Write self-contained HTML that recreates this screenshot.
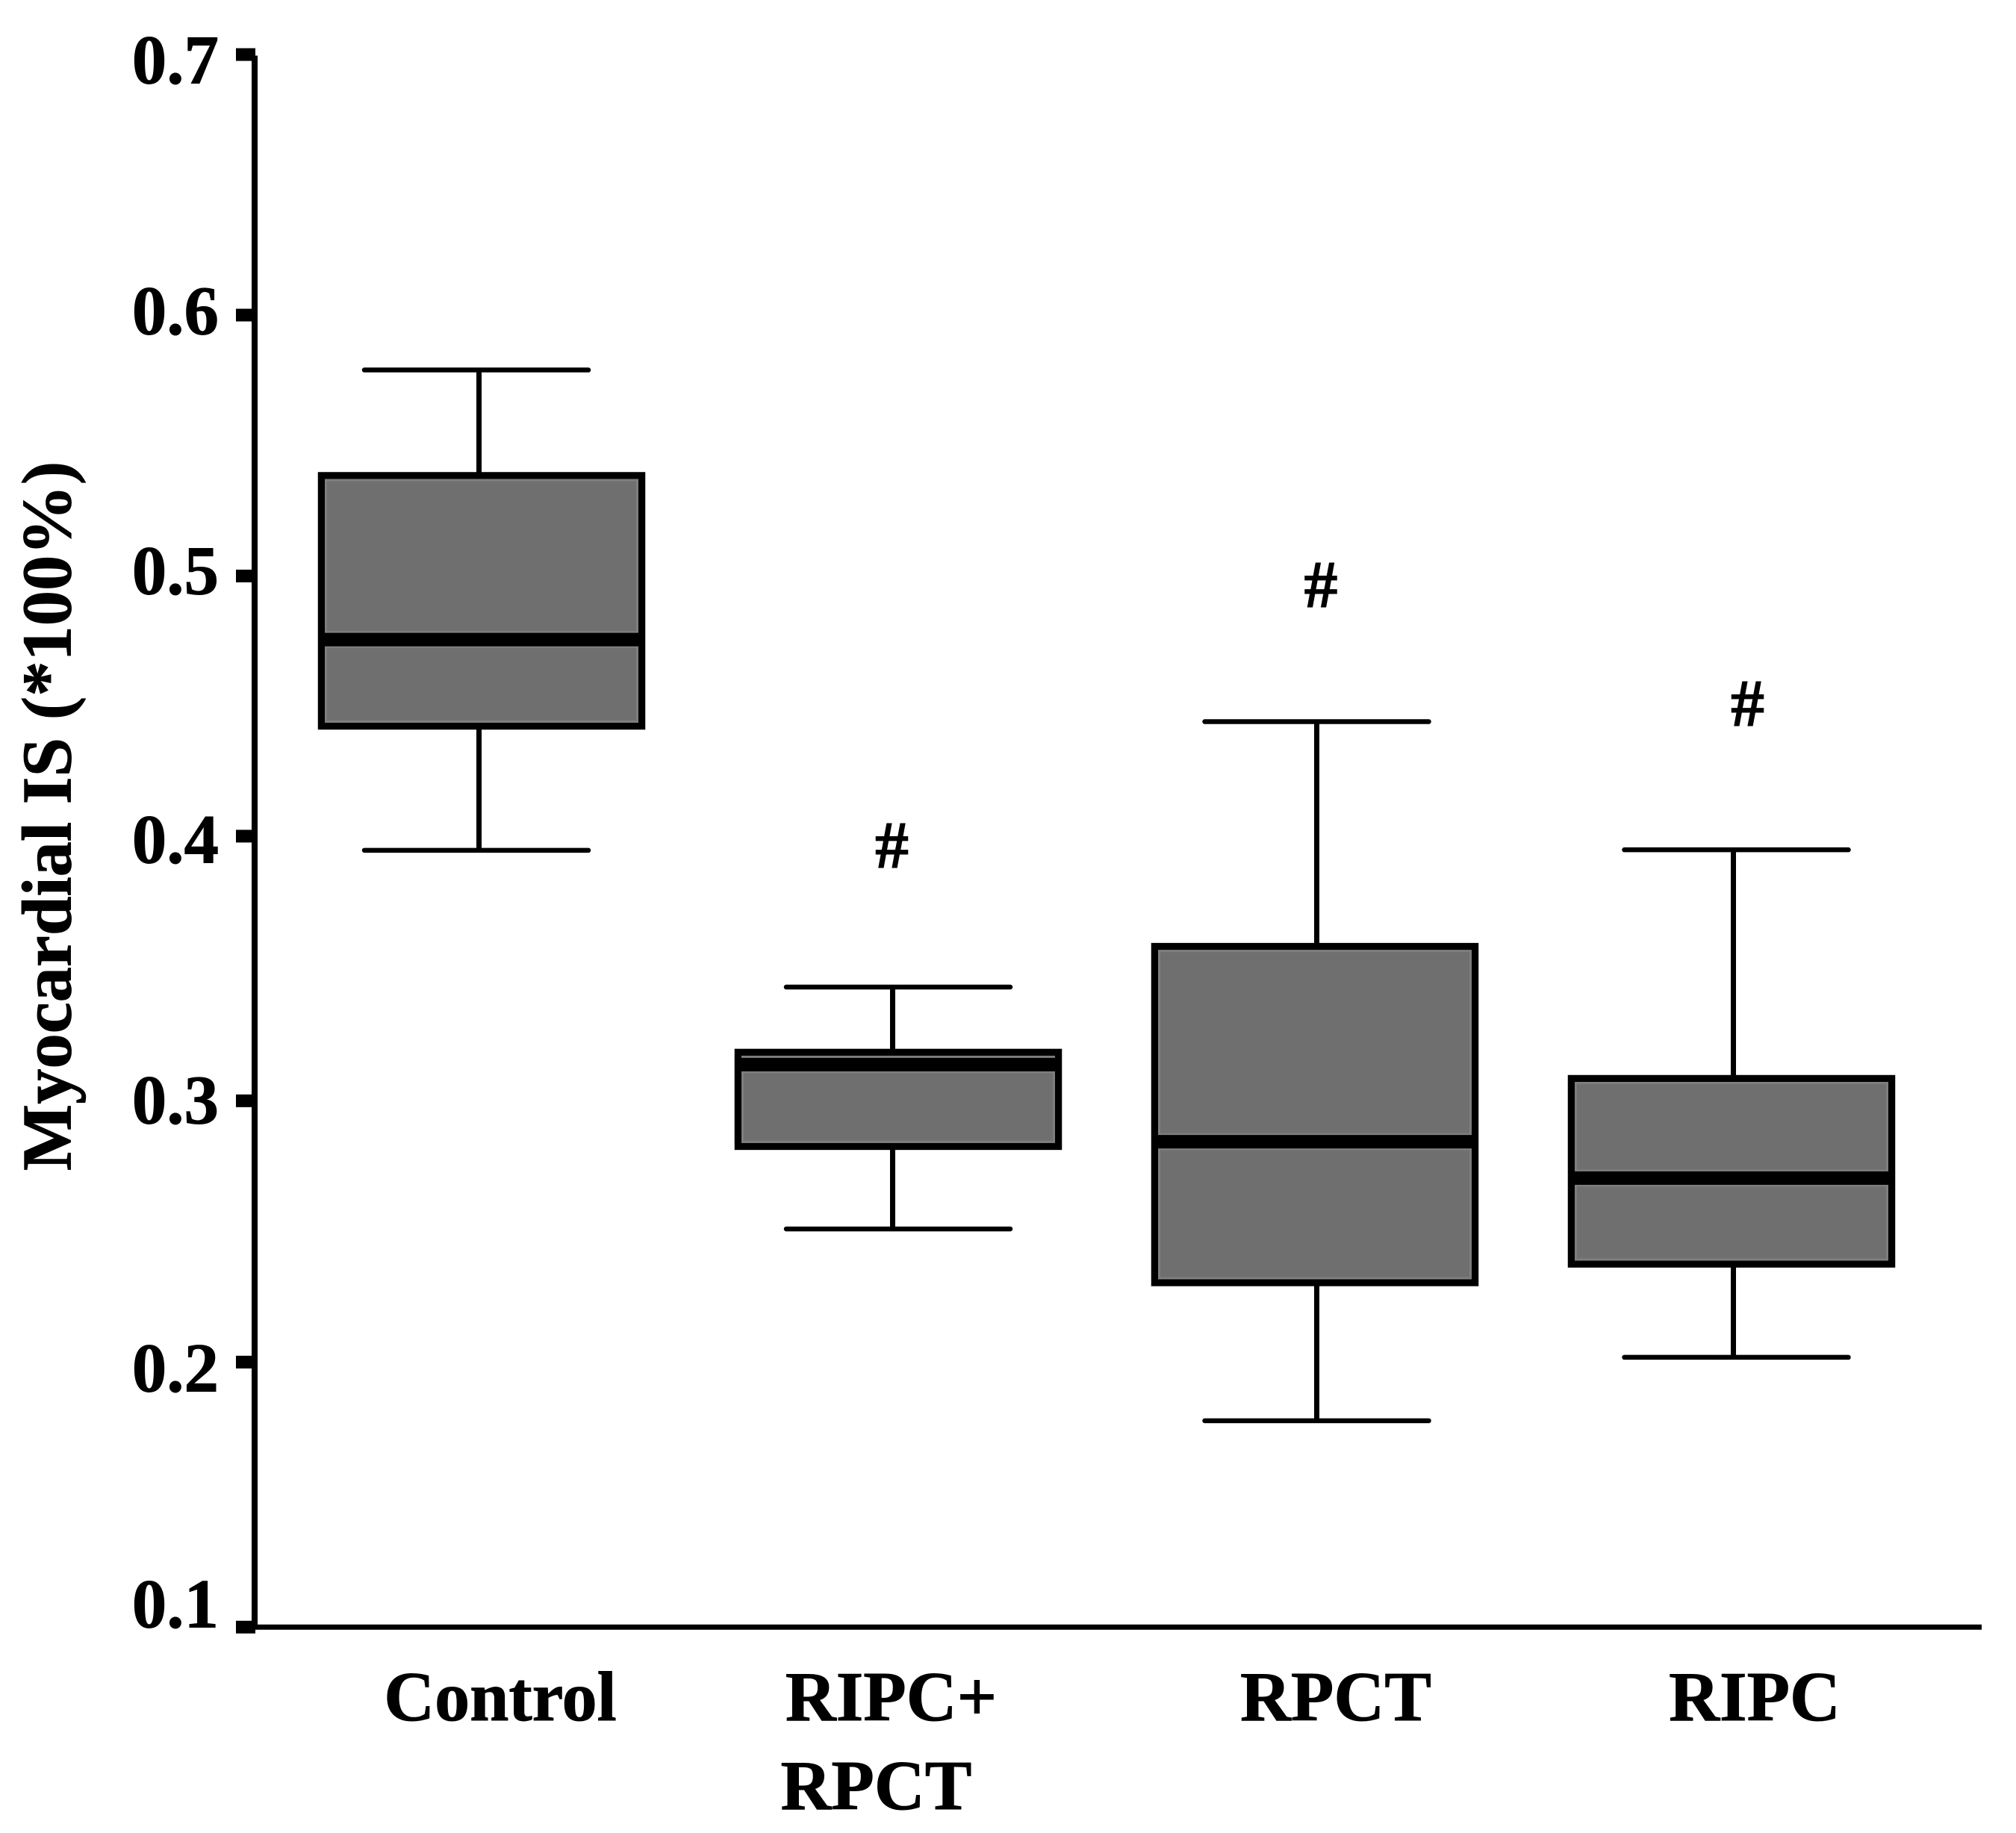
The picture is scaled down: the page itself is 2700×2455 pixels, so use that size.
<!DOCTYPE html>
<html lang="en">
<head>
<meta charset="utf-8">
<title>Myocardial IS box plot</title>
<style>
  html, body { margin: 0; padding: 0; background: #ffffff; }
  svg { display: block; }
  text { font-family: "Liberation Serif", "Times New Roman", serif; font-weight: 700; fill: #000; stroke: #000; stroke-width: 0.9px; }
</style>
</head>
<body>
<svg id="chart" xmlns="http://www.w3.org/2000/svg" width="2700" height="2455" viewBox="0 0 2700 2455">
  <rect x="0" y="0" width="2700" height="2455" fill="#ffffff"/>
  <text transform="translate(94.5,1568) rotate(-90)" font-size="94.5">Myocardial IS (*100%)</text>
</svg>
<script>
// ----- chart data -----
const categories = ["Control", "RIPC+ RPCT", "RPCT", "RIPC"];
const categoryLines = [["Control"], ["RIPC+", "RPCT"], ["RPCT"], ["RIPC"]];
const whiskerHigh = [0.5789, 0.3434, 0.4447, 0.3958];
const quartile3 = [0.5386, 0.3185, 0.3589, 0.3085];
const medians = [0.4760, 0.3138, 0.2844, 0.2705];
const quartile1 = [0.4430, 0.2826, 0.2306, 0.2377];
const whiskerLow = [0.3956, 0.2511, 0.1779, 0.2021];
const significance = [null, 0.3976, 0.4970, 0.4517];
const tickValues = [0.7, 0.6, 0.5, 0.4, 0.3, 0.2, 0.1];
const tickLabels = ["0.7", "0.6", "0.5", "0.4", "0.3", "0.2", "0.1"];

// ----- axis functions -----
function yScale(v) { return 1123.4 + (0.4 - v) * 3509.5; }
function xScale(i) { return 645 + i * 558; }

// ----- layout constants (hand-placement offsets from the scales) -----
const tickMarkShift = [2.5, 0.5, -1, -3.5, 0, -1, 3];
const tickLabelShift = [41, 26, 23, 32, 30, 38, 3];
const stemShift = [-3.5, -7.5, 2.5, 2.5];
const capShift = [-7, 0, 2.5, 6.5];
const hashShift = [0, -8.5, 8, 21.5];
const labelShift = [[25], [-9.5, -29.5], [28], [31]];

const svg = document.getElementById("chart");
const NS = "http://www.w3.org/2000/svg";
function make(tag, props) {
  const el = document.createElementNS(NS, tag);
  for (const k in props) el.setAttribute(k, props[k]);
  svg.appendChild(el);
  return el;
}
const slug = s => s.toLowerCase().replace(/[^a-z0-9]+/g, "-").replace(/-$/, "");

// ----- y axis -----
tickValues.forEach((v, i) => {
  const tick = make("rect", { x: 316, y: yScale(v) + tickMarkShift[i] - 8.5, width: 26, height: 17, fill: "#000" });
  
  
  const label = make("text", { x: 293, y: yScale(v) + tickLabelShift[i], "font-size": 93, "text-anchor": "end" });
  label.textContent = tickLabels[i];
  
  
});
const yAxisLine = make("line", { x1: 341, x2: 341, y1: yScale(0.7) + 4, y2: yScale(0.1) + 6, stroke: "#000", "stroke-width": 8 });


const xAxisLine = make("line", { x1: 337, x2: 2654, y1: yScale(0.1) + 3, y2: yScale(0.1) + 3, stroke: "#000", "stroke-width": 7 });



// ----- boxes -----
categories.forEach((name, i) => {
  const cx = xScale(i);
  const stemX = cx + stemShift[i];
  const capX = cx + capShift[i];
  const key = slug(name);
  const half = 214.5;

  const upperStem = make("line", { x1: stemX, x2: stemX, y1: yScale(whiskerHigh[i]), y2: yScale(quartile3[i]), stroke: "#000", "stroke-width": 7 });
  
  
  const lowerStem = make("line", { x1: stemX, x2: stemX, y1: yScale(quartile1[i]), y2: yScale(whiskerLow[i]), stroke: "#000", "stroke-width": 7 });
  
  
  const upperCap = make("line", { x1: capX - 150, x2: capX + 150, y1: yScale(whiskerHigh[i]), y2: yScale(whiskerHigh[i]), stroke: "#000", "stroke-width": 6.5, "stroke-linecap": "round" });
  
  
  const lowerCap = make("line", { x1: capX - 150, x2: capX + 150, y1: yScale(whiskerLow[i]), y2: yScale(whiskerLow[i]), stroke: "#000", "stroke-width": 6.5, "stroke-linecap": "round" });
  
  

  const top = yScale(quartile3[i]);
  const bottom = yScale(quartile1[i]);
  const box = make("rect", { x: cx - half, y: top, width: half * 2, height: bottom - top, fill: "#6f6f6f", stroke: "#000", "stroke-width": 9.5 });
  
  
  const sheen = make("rect", { x: cx - half + 6, y: top + 6, width: half * 2 - 12, height: bottom - top - 12, fill: "none", stroke: "#7e7e7e", "stroke-width": 3 });
  
  
  const medHalo = make("line", { x1: cx - half + 5, x2: cx + half - 5, y1: yScale(medians[i]), y2: yScale(medians[i]), stroke: "#7e7e7e", "stroke-width": 23 });
  
  
  const med = make("line", { x1: cx - half, x2: cx + half, y1: yScale(medians[i]), y2: yScale(medians[i]), stroke: "#000", "stroke-width": 18 });
  
  

  if (significance[i] !== null) {
    const hash = make("text", { x: cx + hashShift[i], y: yScale(significance[i]) + 30, "font-size": 90, "text-anchor": "middle" });
    hash.textContent = "#";
    
    
  }

  categoryLines[i].forEach((line, j) => {
    const label = make("text", { x: cx + labelShift[i][j], y: 2304 + j * 119, "font-size": 94, "text-anchor": "middle" });
    label.textContent = line;
    
    
  });
});
</script>
</body>
</html>
